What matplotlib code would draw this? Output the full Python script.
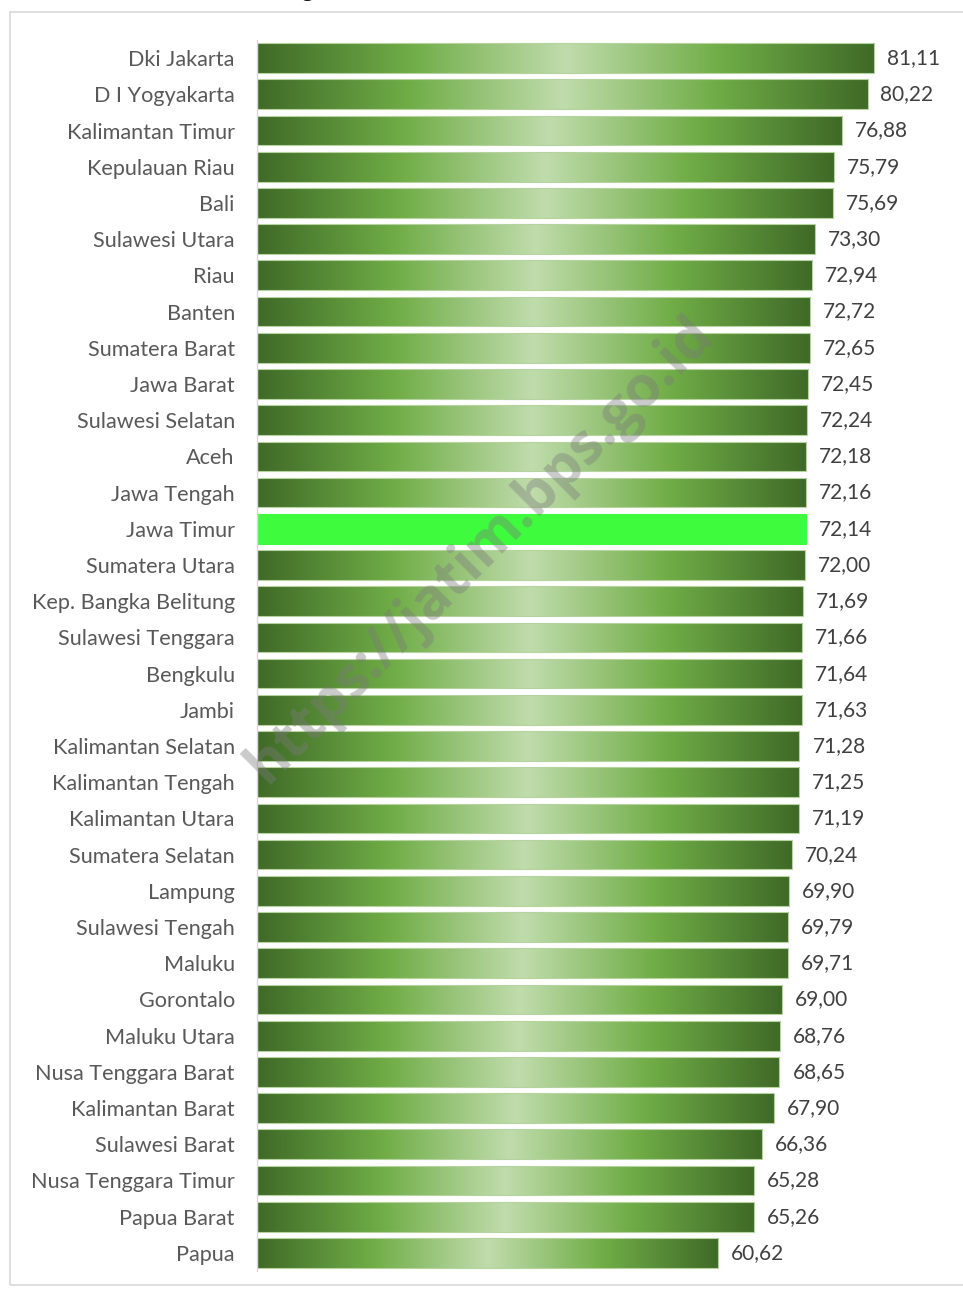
import matplotlib
matplotlib.use("Agg")
import matplotlib.pyplot as plt
from matplotlib.colors import LinearSegmentedColormap
from matplotlib.patches import Rectangle
import numpy as np

provinces = ["Dki Jakarta", "D I Yogyakarta", "Kalimantan Timur", "Kepulauan Riau", "Bali",
             "Sulawesi Utara", "Riau", "Banten", "Sumatera Barat", "Jawa Barat",
             "Sulawesi Selatan", "Aceh", "Jawa Tengah", "Jawa Timur", "Sumatera Utara",
             "Kep. Bangka Belitung", "Sulawesi Tenggara", "Bengkulu", "Jambi", "Kalimantan Selatan",
             "Kalimantan Tengah", "Kalimantan Utara", "Sumatera Selatan", "Lampung", "Sulawesi Tengah",
             "Maluku", "Gorontalo", "Maluku Utara", "Nusa Tenggara Barat", "Kalimantan Barat",
             "Sulawesi Barat", "Nusa Tenggara Timur", "Papua Barat", "Papua"]
values = [81.11, 80.22, 76.88, 75.79, 75.69, 73.30, 72.94, 72.72, 72.65, 72.45,
          72.24, 72.18, 72.16, 72.14, 72.00, 71.69, 71.66, 71.64, 71.63, 71.28,
          71.25, 71.19, 70.24, 69.90, 69.79, 69.71, 69.00, 68.76, 68.65, 67.90,
          66.36, 65.28, 65.26, 60.62]
highlight = "Jawa Timur"
title_bold = "Gambar 2. Angka"
title_rest = " Harapan Hidup Menurut Provinsi (Tahun), 2023"

FONT = "Lato"
fig = plt.figure(figsize=(9.63, 12.93), dpi=100)

# chart frame
fig.patches.append(Rectangle((10/963, 8/1293), 1.2, 1 - 20/1293, transform=fig.transFigure,
                             fill=False, edgecolor="#d9d9d9", linewidth=1.2))

# title, almost entirely cut off at the top edge as in the reference
ty = 1 + 4/1293
fig.text(338/963, ty, title_bold, ha="right", va="baseline", fontsize=14,
         fontweight="bold", family="Open Sans", color="#111111")
fig.text(338/963, ty, title_rest, ha="left", va="baseline", fontsize=14,
         family="Open Sans", color="#555555")

ax = fig.add_axes([257/963, 22/1293, 693/963, 1231/1293])
y = np.arange(len(values))
bars = ax.barh(y, values, height=0.82, color="none", edgecolor="#b5d29f", linewidth=0.8, zorder=2)

cmap = LinearSegmentedColormap.from_list("g", [
    (0.0, "#3f6a27"), (0.25, "#70ad47"), (0.5, "#c0dcac"), (0.75, "#70ad47"), (1.0, "#3f6a27")])
grad = np.linspace(0, 1, 256).reshape(1, -1)

for bar, name in zip(bars, provinces):
    x0, y0 = bar.get_x(), bar.get_y()
    w, h = bar.get_width(), bar.get_height()
    if name == highlight:
        bar.set_facecolor("#3ffb3d")
        bar.set_edgecolor("#3ffb3d")
    else:
        im = ax.imshow(grad, cmap=cmap, aspect="auto", extent=[x0, x0 + w, y0 + h, y0],
                       zorder=1, interpolation="bilinear")
        im.set_clip_path(bar)

for yi, v in zip(y, values):
    ax.text(v + 1.7, yi, f"{v:.2f}".replace(".", ","), va="center", ha="left",
            fontsize=15, family=FONT, color="#404040")

ax.set_xlim(0, 91.06)
ax.set_ylim(len(values) - 0.5, -0.5)
ax.set_yticks(y)
ax.set_yticklabels(provinces, fontsize=15.6, family=FONT, color="#595959")
ax.tick_params(axis="y", length=0, pad=16)
ax.set_xticks([])
for s in ["top", "right", "bottom"]:
    ax.spines[s].set_visible(False)
ax.spines["left"].set_color("#d9d9d9")
ax.spines["left"].set_linewidth(1.0)
ax.set_facecolor("none")

# watermark
fig.text(480/963, 1 - 550/1293, "https://jatim.bps.go.id", rotation=45, ha="center", va="center",
         fontsize=41, fontweight="bold", family="Open Sans", color="#7a7a7a", alpha=0.4, zorder=10)

fig.savefig("out.png", dpi=100)
